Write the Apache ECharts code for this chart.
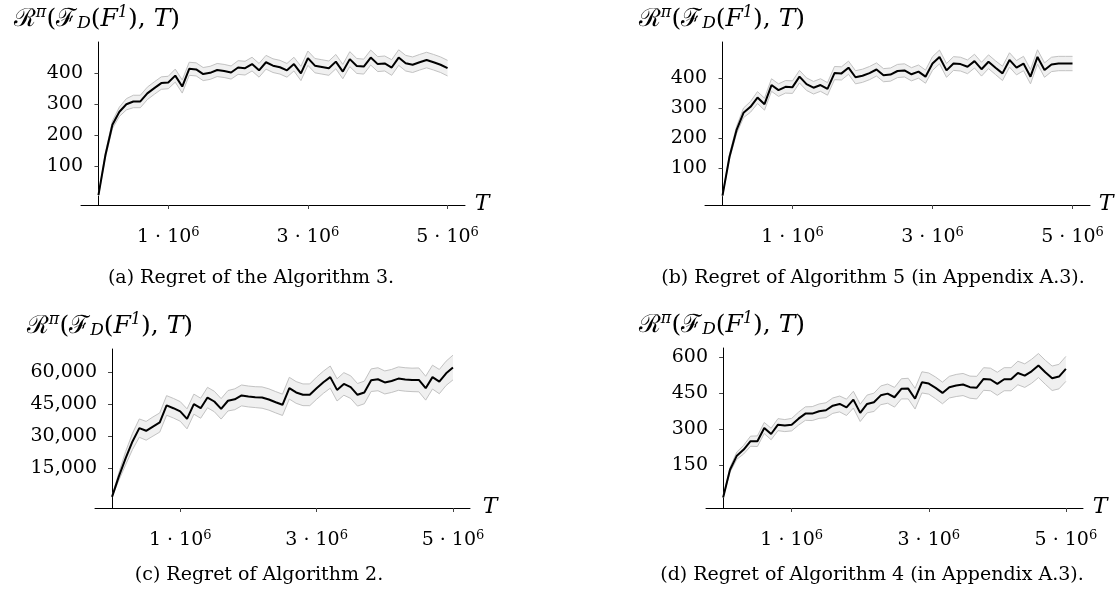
<!DOCTYPE html>
<html>
<head>
<meta charset="utf-8">
<script src="https://cdn.jsdelivr.net/npm/echarts@6/dist/echarts.min.js"></script>
<style>
  html, body { margin: 0; padding: 0; background: #fff; }
  #chart { width: 1117px; height: 594px; }
</style>
</head>
<body>
<div id="chart"></div>
<script>
// horizon T, one point every 1e5 steps
var T = [0, 100000, 200000, 300000, 400000, 500000, 600000, 700000, 800000, 900000,
  1000000, 1100000, 1200000, 1300000, 1400000, 1500000, 1600000, 1700000, 1800000, 1900000,
  2000000, 2100000, 2200000, 2300000, 2400000, 2500000, 2600000, 2700000, 2800000, 2900000,
  3000000, 3100000, 3200000, 3300000, 3400000, 3500000, 3600000, 3700000, 3800000, 3900000,
  4000000, 4100000, 4200000, 4300000, 4400000, 4500000, 4600000, 4700000, 4800000, 4900000, 5000000];

// (a) Algorithm 3
var regretA = [8, 137, 234, 276, 300, 309, 309, 335, 352, 368, 370, 392, 357, 414, 412, 397, 401, 410, 407, 402,
  418, 416, 429, 409, 435, 424, 419, 409, 429, 399, 448, 424, 420, 416, 437, 405, 445, 423, 421, 450,
  429, 431, 418, 450, 432, 427, 435, 442, 435, 427, 416];
var spreadA = [2, 8, 12, 15, 18, 20, 20, 20, 20, 20, 20, 21, 21, 21, 21, 21, 21, 21, 21, 21,
  22, 22, 22, 22, 22, 22, 22, 22, 22, 23, 23, 23, 23, 23, 23, 23, 24, 24, 24, 24,
  24, 24, 25, 25, 25, 25, 25, 25, 25, 25, 25];

// (b) Algorithm 5
var regretB = [8, 138, 227, 285, 305, 336, 314, 378, 361, 372, 371, 406, 381, 369, 378, 365, 418, 417, 436, 404,
  409, 418, 430, 411, 413, 425, 427, 414, 423, 406, 450, 472, 427, 450, 448, 439, 458, 431, 456, 436,
  417, 462, 436, 450, 406, 472, 428, 447, 450, 450, 450];
var spreadB = [2, 8, 12, 16, 18, 20, 20, 21, 21, 21, 21, 21, 21, 21, 21, 21, 22, 22, 22, 22,
  22, 22, 22, 22, 22, 22, 22, 22, 22, 22, 23, 23, 23, 23, 23, 23, 23, 23, 23, 23,
  24, 24, 24, 24, 24, 24, 24, 24, 24, 24, 24];

// (c) Algorithm 2
var regretC = [1500, 11100, 19700, 27500, 33750, 32500, 34500, 36400, 44400, 43100,
  41600, 38100, 45000, 43100, 48100, 46250, 42800, 46600, 47300, 49100,
  48600, 48300, 48100, 47200, 45900, 44700, 52500, 50500, 49400, 49400,
  52500, 55300, 57700, 51700, 54500, 53000, 49400, 50500, 56250, 56700,
  55200, 55900, 57000, 56600, 56400, 56400, 52500, 57700, 55600, 59500, 62200];
var spreadC = [200, 1800, 3100, 3800, 4300, 4400, 4500, 4500, 4600, 4600,
  4600, 4700, 4700, 4700, 4800, 4800, 4800, 4800, 4900, 4900,
  4900, 4900, 5000, 5000, 5000, 5000, 5100, 5100, 5100, 5100,
  5200, 5200, 5200, 5200, 5300, 5300, 5300, 5300, 5300, 5400,
  5400, 5400, 5500, 5500, 5500, 5600, 5600, 5600, 5700, 5700, 5800];

// (d) Algorithm 4
var regretD = [15, 130, 189, 214, 249, 249, 304, 279, 318, 314, 318, 343, 364, 364, 374, 378, 397, 404, 390, 422,
  367, 404, 411, 440, 447, 432, 467, 468, 426, 494, 489, 471, 450, 474, 481, 485, 474, 472, 508, 506,
  488, 507, 507, 533, 522, 540, 564, 536, 511, 518, 550];
var spreadD = [2, 10, 15, 18, 21, 22, 23, 24, 25, 25, 26, 27, 28, 29, 30, 31, 32, 33, 34, 35,
  36, 37, 38, 39, 40, 41, 42, 43, 43, 44, 44, 45, 45, 45, 46, 46, 46, 47, 47, 47,
  48, 48, 48, 49, 49, 50, 50, 50, 51, 51, 52];

var xTicks = [1000000, 3000000, 5000000];
var yTicksA = [100, 200, 300, 400];
var yTicksB = [100, 200, 300, 400];
var yTicksC = [15000, 30000, 45000, 60000];
var yTicksD = [150, 300, 450, 600];

var captions = [
  '(a) Regret of the Algorithm 3.',
  '(b) Regret of Algorithm 5 (in Appendix A.3).',
  '(c) Regret of Algorithm 2.',
  '(d) Regret of Algorithm 4 (in Appendix A.3).'
];

var FONT = '"DejaVu Serif", "Liberation Serif", serif';

var panels = [
  { mean: regretA, spread: spreadA, yTicks: yTicksA, yMin: -23.5, yMax: 500,
    grid: { left: 81, top: 42, width: 384, height: 163 },
    ylab: [97, 19], tlab: [482, 204], cap: [251, 278] },
  { mean: regretB, spread: spreadB, yTicks: yTicksB, yMin: -23.4, yMax: 522,
    grid: { left: 705, top: 42, width: 385, height: 163 },
    ylab: [722, 19], tlab: [1106, 204], cap: [873, 278] },
  { mean: regretC, spread: spreadC, yTicks: yTicksC, yMin: -3750, yMax: 70900,
    grid: { left: 95, top: 349, width: 375, height: 159 },
    ylab: [110, 326], tlab: [490, 507], cap: [259, 575] },
  { mean: regretD, spread: spreadD, yTicks: yTicksD, yMin: -29, yMax: 637,
    grid: { left: 706, top: 348, width: 377, height: 160 },
    ylab: [722, 325], tlab: [1100, 507], cap: [872, 575] }
];

var grids = [], xAxes = [], yAxes = [], series = [], graphics = [];

function bandRenderer(lo, hi) {
  return function (params, api) {
    if (params.dataIndex !== 0) return;
    var up = [], down = [];
    for (var k = 0; k < T.length; k++) {
      up.push(api.coord([T[k], hi[k]]));
      down.push(api.coord([T[k], lo[k]]));
    }
    var poly = up.concat(down.slice().reverse());
    return {
      type: 'group',
      children: [
        { type: 'polygon', shape: { points: poly }, style: { fill: '#f0f0f0', stroke: null } },
        { type: 'polyline', shape: { points: up }, style: { fill: null, stroke: '#c2c2c2', lineWidth: 1 } },
        { type: 'polyline', shape: { points: down }, style: { fill: null, stroke: '#c2c2c2', lineWidth: 1 } }
      ]
    };
  };
}

panels.forEach(function (p, i) {
  grids.push(p.grid);
  xAxes.push({
    type: 'value', gridIndex: i, min: -250000, max: 5250000,
    splitLine: { show: false },
    axisLine: { onZero: false, lineStyle: { color: '#000', width: 1 } },
    axisTick: { customValues: xTicks, length: 4, lineStyle: { color: '#444' } },
    axisLabel: {
      customValues: xTicks, margin: 21, color: '#000',
      formatter: function (v) { return '{n|' + (v / 1000000) + ' · 10}{s|6}'; },
      rich: {
        n: { fontFamily: FONT, fontSize: 19, color: '#000' },
        s: { fontFamily: FONT, fontSize: 13, color: '#000', padding: [0, 0, 10, 0] }
      }
    }
  });
  yAxes.push({
    type: 'value', gridIndex: i, min: p.yMin, max: p.yMax,
    splitLine: { show: false },
    axisLine: { show: true, onZero: true, lineStyle: { color: '#000', width: 1 } },
    axisTick: { show: true, customValues: p.yTicks, length: 4, lineStyle: { color: '#444' } },
    axisLabel: {
      customValues: p.yTicks, margin: -2, color: '#000',
      fontFamily: FONT, fontSize: 19,
      formatter: function (v) { return v.toLocaleString('en-US'); }
    }
  });

  var lo = [], hi = [], band = [], line = [];
  for (var k = 0; k < T.length; k++) {
    lo.push(p.mean[k] - p.spread[k]);
    hi.push(p.mean[k] + p.spread[k]);
    band.push([T[k], lo[k], hi[k]]);
    line.push([T[k], p.mean[k]]);
  }
  series.push({
    type: 'custom', xAxisIndex: i, yAxisIndex: i, data: band, silent: true, z: 1,
    encode: { x: 0, y: [1, 2] },
    renderItem: bandRenderer(lo, hi)
  });
  series.push({
    type: 'line', xAxisIndex: i, yAxisIndex: i, data: line,
    showSymbol: false, z: 5,
    lineStyle: { color: '#000', width: 2 }
  });

  graphics.push({
    type: 'text', x: p.ylab[0], y: p.ylab[1],
    style: {
      align: 'center', verticalAlign: 'middle',
      text: '{r|ℛ}{sup|π}{n|(}{r|ℱ}{sub|D}{n|(}{i|F}{sup|1}{n|), }{i|T}{n|)}',
      rich: {
        n: { fontFamily: FONT, fontSize: 25, fill: '#000' },
        r: { fontFamily: FONT, fontSize: 25, fill: '#000' },
        i: { fontFamily: FONT, fontSize: 25, fontStyle: 'italic', fill: '#000' },
        sup: { fontFamily: FONT, fontSize: 16, fontStyle: 'italic', fill: '#000', padding: [0, 0, 12, 0] },
        sub: { fontFamily: FONT, fontSize: 17, fontStyle: 'italic', fill: '#000', padding: [10, 0, 0, 0] }
      }
    }
  });
  graphics.push({
    type: 'text', x: p.tlab[0], y: p.tlab[1],
    style: { text: 'T', align: 'center', verticalAlign: 'middle',
      font: 'italic 22px ' + FONT, fill: '#000' }
  });
  graphics.push({
    type: 'text', x: p.cap[0], y: p.cap[1],
    style: { text: captions[i], align: 'center', verticalAlign: 'middle',
      font: '19px ' + FONT, fill: '#000' }
  });
});

var chart = echarts.init(document.getElementById('chart'));
chart.setOption({
  animation: false,
  backgroundColor: '#fff',
  grid: grids,
  xAxis: xAxes,
  yAxis: yAxes,
  series: series,
  graphic: graphics
});
</script>
</body>
</html>
